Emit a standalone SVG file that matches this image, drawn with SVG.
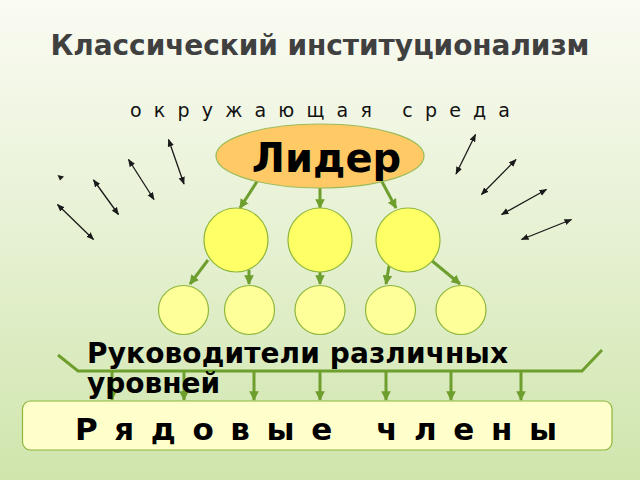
<svg xmlns="http://www.w3.org/2000/svg" width="640" height="480" viewBox="0 0 640 480">
<defs>
<linearGradient id="bg" x1="0" y1="0" x2="0" y2="1">
<stop offset="0" stop-color="#FAFBF3"/>
<stop offset="0.5" stop-color="#E6F1D2"/>
<stop offset="1" stop-color="#CFE5AC"/>
</linearGradient>
<marker id="ga" viewBox="0 0 10 10" refX="9" refY="5" markerWidth="3.2" markerHeight="3.2" orient="auto">
<path d="M0,0 L10,5 L0,10 z" fill="#6E9E2E"/>
</marker>
<marker id="ba" viewBox="0 0 10 10" refX="9" refY="5" markerWidth="6" markerHeight="6" orient="auto-start-reverse">
<path d="M0,1 L10,5 L0,9 z" fill="#1a1a1a"/>
</marker>
<style>
.t{font-family:"DejaVu Sans","Noto Sans",sans-serif;}
.g{stroke:#6E9E2E;stroke-width:3;fill:none;}
.ga{stroke:#6E9E2E;stroke-width:3;fill:none;marker-end:url(#ga);}
.ba{stroke:#1a1a1a;stroke-width:1.3;fill:none;marker-start:url(#ba);marker-end:url(#ba);}
.mid{fill:#FFFF66;stroke:#8DB63C;stroke-width:1.2;}
.low{fill:#FFFF99;stroke:#8DB63C;stroke-width:1.2;}
</style>
</defs>
<rect width="640" height="480" fill="url(#bg)"/>
<text class="t" x="320" y="55" text-anchor="middle" font-size="28" font-weight="bold" fill="#404040" textLength="539" lengthAdjust="spacing">Классический институционализм</text>
<text class="t" x="130" y="117" font-size="19" fill="#111" style="white-space:pre" textLength="380" lengthAdjust="spacing">о к р у ж а ю щ а я   с р е д а</text>
<g id="environment-arrows">
<line class="ba" x1="168.5" y1="139.5" x2="184" y2="184"/>
<line class="ba" x1="128.5" y1="159.5" x2="154" y2="199.5"/>
<line class="ba" x1="93.5" y1="180" x2="118.5" y2="214.5"/>
<line class="ba" x1="57.5" y1="204.5" x2="93.5" y2="239.5"/>
<polygon points="57.5,175 64,176.5 60,180.5" fill="#1a1a1a"/>
<line class="ba" x1="475.5" y1="134.5" x2="456" y2="174"/>
<line class="ba" x1="516" y1="159.5" x2="481.5" y2="194.5"/>
<line class="ba" x1="546.5" y1="189.5" x2="501.5" y2="214.5"/>
<line class="ba" x1="571.5" y1="219.5" x2="521.5" y2="239.5"/>
</g>
<g id="connectors">
<line class="ga" x1="258" y1="180" x2="240" y2="208"/>
<line class="ga" x1="320" y1="188" x2="320" y2="208"/>
<line class="ga" x1="380" y1="178" x2="396" y2="208"/>
<line class="ga" x1="208" y1="260" x2="190" y2="284"/>
<line class="ga" x1="249" y1="270" x2="249" y2="284"/>
<line class="ga" x1="320" y1="272" x2="320" y2="284"/>
<line class="ga" x1="389" y1="266" x2="386" y2="284"/>
<line class="ga" x1="431" y1="260" x2="460" y2="284"/>
<polyline class="g" points="58,355 78,371 582,371 602,350"/>
<line class="ga" stroke-width="2" x1="112" y1="371" x2="112" y2="400"/>
<line class="ga" stroke-width="2" x1="184" y1="371" x2="184" y2="400"/>
<line class="ga" stroke-width="2" x1="254" y1="371" x2="254" y2="400"/>
<line class="ga" stroke-width="2" x1="320" y1="371" x2="320" y2="400"/>
<line class="ga" stroke-width="2" x1="386" y1="371" x2="386" y2="400"/>
<line class="ga" stroke-width="2" x1="451" y1="371" x2="451" y2="400"/>
<line class="ga" stroke-width="2" x1="521" y1="371" x2="521" y2="400"/>
</g>
<g id="leader">
<ellipse cx="320" cy="156" rx="104" ry="32" fill="#FFC966" stroke="#9BBB59" stroke-width="1.2"/>
<text class="t" x="326.5" y="172" text-anchor="middle" font-size="40" font-weight="bold" fill="#000">Лидер</text>
</g>
<g id="mid1"><ellipse class="mid" cx="236" cy="240" rx="32" ry="32"/></g>
<g id="mid2"><ellipse class="mid" cx="320" cy="240" rx="32" ry="32"/></g>
<g id="mid3"><ellipse class="mid" cx="408" cy="240" rx="32" ry="32"/></g>
<g id="low1"><ellipse class="low" cx="183.5" cy="310" rx="25" ry="24.5"/></g>
<g id="low2"><ellipse class="low" cx="249.5" cy="310" rx="25" ry="24.5"/></g>
<g id="low3"><ellipse class="low" cx="320" cy="310" rx="25" ry="24.5"/></g>
<g id="low4"><ellipse class="low" cx="390.5" cy="310" rx="25" ry="24.5"/></g>
<g id="low5"><ellipse class="low" cx="461" cy="310" rx="25" ry="24.5"/></g>
<g id="managers-label">
<text class="t" x="87" y="363" font-size="28" font-weight="bold" fill="#000" textLength="421" lengthAdjust="spacing">Руководители различных</text>
<text class="t" x="87" y="393" font-size="28" font-weight="bold" fill="#000">уровней</text>
</g>
<g id="members">
<rect x="22.5" y="401" width="589.5" height="49" rx="8" fill="#FFFFCC" stroke="#8DB63C" stroke-width="1.2"/>
<text class="t" x="75" y="440" font-size="31" font-weight="bold" fill="#000" style="white-space:pre" textLength="482" lengthAdjust="spacing">Р я д о в ы е   ч л е н ы</text>
</g>
</svg>
